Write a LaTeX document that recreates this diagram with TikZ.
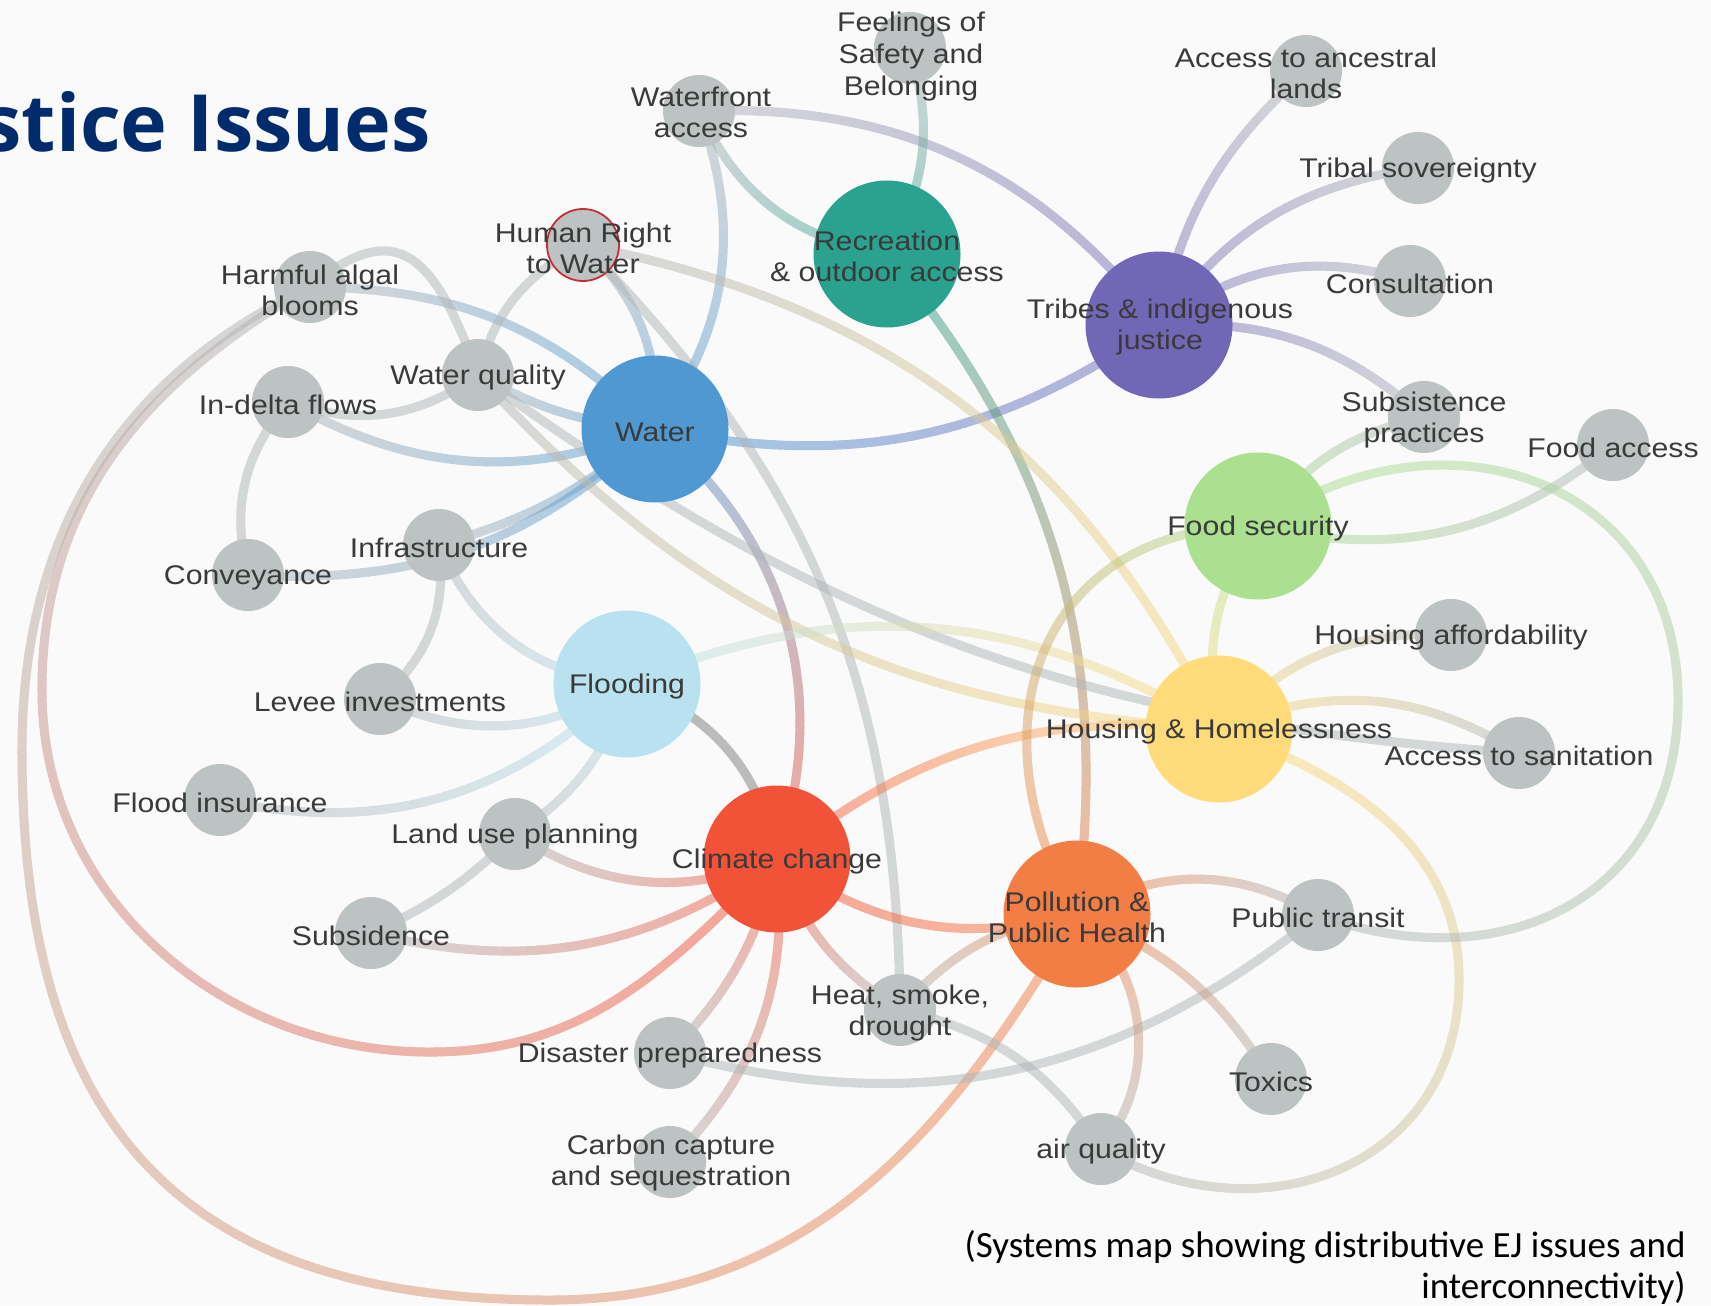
\documentclass[tikz,border=0pt]{standalone}
\usepackage{fontspec}
\setmainfont{Liberation Sans}[FakeStretch=1.12]
\newfontfamily\titlefont{Open Sans}
\newfontfamily\capfont{Carlito}
\usetikzlibrary{decorations.markings}
\pgfdeclarelayer{bg}
\pgfdeclarelayer{edges}
\pgfsetlayers{bg,edges,main}
\definecolor{cW}{RGB}{79,152,210}
\definecolor{cR}{RGB}{42,162,143}
\definecolor{cT}{RGB}{113,103,182}
\definecolor{cF}{RGB}{170,224,143}
\definecolor{cFl}{RGB}{186,225,239}
\definecolor{cH}{RGB}{255,219,122}
\definecolor{cC}{RGB}{242,82,56}
\definecolor{cP}{RGB}{242,126,70}
\definecolor{cG}{RGB}{189,194,195}
\definecolor{cGe}{RGB}{176,181,183}
\definecolor{cDk}{RGB}{125,125,125}
\definecolor{txt}{RGB}{58,58,58}
\definecolor{navy}{RGB}{0,43,108}
\definecolor{hrwred}{RGB}{200,45,55}
\definecolor{bgc}{RGB}{250,250,250}
\newcommand\gradmark[2]{%
  \pgfmathtruncatemacro\gfr{\pgfkeysvalueof{/pgf/decoration/mark info/distance from start}/\pgfdecoratedpathlength*100}%
  \draw[#2!\gfr!#1, line width=4.5pt, line cap=round] (0,0) -- (3.4pt,0);}
\tikzset{
  grad/.style 2 args={postaction={decorate,decoration={markings,
      mark=between positions 0 and 1 step 3pt with {\gradmark{#1}{#2}}}}},
  big/.style={circle, minimum size=73.5pt, inner sep=0pt, draw=none},
  small/.style={circle, minimum size=36pt, inner sep=0pt, draw=none, fill=cG},
  lbl/.style={align=center, inner sep=0pt, text=txt, yshift=-1.5pt, font=\fontsize{13.5}{15.5}\selectfont},
}
\newcommand\edge[5]{%
  \begin{scope}[transparency group, opacity=0.5]
    \path[grad={#3}{#4}] (#1.center) #5 (#2.center);
  \end{scope}}
\begin{document}
\begin{tikzpicture}[x=0.5pt,y=0.5pt]
\begin{pgfonlayer}{bg}
\fill[bgc] (0,0) rectangle (1711,-1305);
\end{pgfonlayer}
\useasboundingbox (0,0) rectangle (1711,-1305);

% big nodes
\node[big, fill=cW] (water) at (655,-429) {};
\node[big, fill=cR] (rec) at (887,-254) {};
\node[big, fill=cT] (tribes) at (1159,-325) {};
\node[big, fill=cF] (fs) at (1258,-526) {};
\node[big, fill=cFl] (flood) at (627,-684) {};
\node[big, fill=cH] (housing) at (1219,-729) {};
\node[big, fill=cC] (climate) at (777,-859) {};
\node[big, fill=cP] (poll) at (1077,-914) {};
% small nodes
\node[small] (feel) at (910,-48) {};
\node[small] (wfa) at (699,-111) {};
\node[small] (aal) at (1306,-71) {};
\node[small] (tsov) at (1418,-168) {};
\node[small] (cons) at (1410,-281) {};
\node[small] (subs) at (1424,-417) {};
\node[small] (facc) at (1613,-445) {};
\node[small, draw=hrwred, line width=0.9pt] (hrw) at (583,-245) {};
\node[small] (hab) at (310,-287) {};
\node[small] (wq) at (478,-375) {};
\node[small] (idf) at (288,-402) {};
\node[small] (infra) at (439,-545) {};
\node[small] (conv) at (248,-575) {};
\node[small] (levee) at (380,-699) {};
\node[small] (finsur) at (220,-800) {};
\node[small] (lup) at (515,-834) {};
\node[small] (subsid) at (371,-933) {};
\node[small] (dp) at (670,-1053) {};
\node[small] (carbon) at (670,-1162) {};
\node[small] (heat) at (900,-1010) {};
\node[small] (aq) at (1101,-1149) {};
\node[small] (toxics) at (1271,-1079) {};
\node[small] (pt) at (1318,-915) {};
\node[small] (sanit) at (1519,-753) {};
\node[small] (haff) at (1451,-635) {};

% labels
\node[lbl] (water-l) at (water) {Water};
\node[lbl] (rec-l) at (887,-253) {Recreation\\\& outdoor access};
\node[lbl] (tribes-l) at (1160,-324) {Tribes \& indigenous\\justice};
\node[lbl] (fs-l) at (fs) {Food security};
\node[lbl] (flood-l) at (flood) {Flooding};
\node[lbl] (housing-l) at (housing) {Housing \& Homelessness};
\node[lbl] (climate-l) at (climate) {Climate change};
\node[lbl] (poll-l) at (1077,-914) {Pollution \&\\Public Health};
\node[lbl, font=\fontsize{13.5}{16}\selectfont] (feel-l) at (911,-54) {Feelings of\\Safety and\\Belonging};
\node[lbl] (wfa-l) at (701,-109) {Waterfront\\access};
\node[lbl] (aal-l) at (1306,-70) {Access to ancestral\\lands};
\node[lbl] (tsov-l) at (tsov) {Tribal sovereignty};
\node[lbl] (cons-l) at (cons) {Consultation};
\node[lbl] (subs-l) at (subs) {Subsistence\\practices};
\node[lbl] (facc-l) at (facc) {Food access};
\node[lbl] (hrw-l) at (hrw) {Human Right\\to Water};
\node[lbl] (hab-l) at (hab) {Harmful algal\\blooms};
\node[lbl] (wq-l) at (wq) {Water quality};
\node[lbl] (idf-l) at (idf) {In-delta flows};
\node[lbl] (infra-l) at (infra) {Infrastructure};
\node[lbl] (conv-l) at (conv) {Conveyance};
\node[lbl] (levee-l) at (levee) {Levee investments};
\node[lbl] (finsur-l) at (finsur) {Flood insurance};
\node[lbl] (lup-l) at (lup) {Land use planning};
\node[lbl] (subsid-l) at (subsid) {Subsidence};
\node[lbl] (dp-l) at (dp) {Disaster preparedness};
\node[lbl] (carbon-l) at (671,-1160) {Carbon capture\\and sequestration};
\node[lbl] (heat-l) at (heat) {Heat, smoke,\\drought};
\node[lbl] (aq-l) at (aq) {air quality};
\node[lbl] (toxics-l) at (toxics) {Toxics};
\node[lbl] (pt-l) at (pt) {Public transit};
\node[lbl] (sanit-l) at (sanit) {Access to sanitation};
\node[lbl] (haff-l) at (haff) {Housing affordability};

% title and caption
\node[anchor=base east, inner sep=0pt, text=navy, font=\titlefont\bfseries\fontsize{39.5}{39.5}\selectfont] (title) at (431,-152) {stice Issues};
\node[anchor=base east, inner sep=0pt, text=black, font=\capfont\fontsize{18.5}{21.5}\selectfont] (cap1) at (1686,-1257) {(Systems map showing distributive EJ issues and};
\node[anchor=base east, inner sep=0pt, text=black, font=\capfont\fontsize{18.5}{21.5}\selectfont] (cap2) at (1686,-1298) {interconnectivity)};

\begin{pgfonlayer}{edges}
\edge{wfa}{water}{cGe}{cW}{to[bend left=28]}
\edge{hrw}{water}{cGe}{cW}{to[bend left=25]}
\edge{hab}{water}{cGe}{cW}{to[bend left=22]}
\edge{wq}{water}{cGe}{cW}{to[bend right=12]}
\edge{idf}{water}{cGe}{cW}{to[bend right=25]}
\edge{infra}{water}{cGe}{cW}{to[bend right=12]}
\edge{conv}{water}{cGe}{cW}{to[bend right=23]}
\edge{water}{tribes}{cW}{cT}{to[bend right=23]}
\edge{water}{climate}{cW}{cC}{to[bend left=34]}
\edge{wfa}{rec}{cGe}{cR}{to[bend right=28]}
\edge{wfa}{tribes}{cGe}{cT}{to[bend left=27]}
\edge{feel}{rec}{cGe}{cR}{to[bend left=23]}
\edge{rec}{poll}{cR}{cP}{to[bend left=23]}
\edge{tribes}{aal}{cT}{cGe}{to[bend left=18]}
\edge{tribes}{tsov}{cT}{cGe}{to[bend left=23]}
\edge{tribes}{cons}{cT}{cGe}{to[bend left=27]}
\edge{tribes}{subs}{cT}{cGe}{to[bend left=22]}
\edge{hrw}{wq}{cGe}{cGe}{to[bend right=24]}
\edge{hrw}{housing}{cGe}{cH}{to[bend left=26]}
\edge{hrw}{heat}{cGe}{cGe}{to[bend left=22]}
\edge{hab}{wq}{cGe}{cGe}{to[out=40,in=110,looseness=1.6]}
\edge{hab}{climate}{cGe}{cC}{to[out=210,in=90] (42,-690) to[out=270,in=180] (430,-1052) to[out=0,in=225]}
\edge{hab}{poll}{cGe}{cP}{to[out=205,in=90] (22,-750) to[out=270,in=180,looseness=1.25] (550,-1300) to[out=0,in=240]}
\edge{idf}{wq}{cGe}{cGe}{to[bend right=27]}
\edge{wq}{housing}{cGe}{cH}{to[bend right=22]}
\edge{wq}{sanit}{cGe}{cGe}{to[bend right=16]}
\edge{idf}{conv}{cGe}{cGe}{to[bend right=27]}
\edge{infra}{levee}{cGe}{cGe}{to[bend left=28]}
\edge{infra}{flood}{cGe}{cFl}{to[bend right=30]}
\edge{levee}{flood}{cGe}{cFl}{to[bend right=28]}
\edge{finsur}{flood}{cGe}{cFl}{to[bend right=28]}
\edge{lup}{flood}{cGe}{cFl}{to[bend right=20]}
\edge{flood}{climate}{cDk}{cDk}{to[bend left=30]}
\edge{flood}{housing}{cFl}{cH}{to[bend left=27]}
\edge{lup}{subsid}{cGe}{cGe}{to[bend left=10]}
\edge{lup}{climate}{cGe}{cC}{to[bend right=27]}
\edge{subsid}{climate}{cGe}{cC}{to[bend right=24]}
\edge{climate}{dp}{cC}{cGe}{to[bend left=15]}
\edge{climate}{carbon}{cC}{cGe}{to[bend left=25]}
\edge{climate}{heat}{cC}{cGe}{to[bend right=18]}
\edge{climate}{poll}{cC}{cP}{to[bend right=25]}
\edge{climate}{housing}{cC}{cH}{to[bend left=22]}
\edge{heat}{poll}{cGe}{cP}{to[bend left=20]}
\edge{heat}{aq}{cGe}{cGe}{to[bend left=22]}
\edge{dp}{pt}{cGe}{cGe}{to[bend right=27]}
\edge{poll}{fs}{cP}{cF}{to[out=120,in=180,looseness=1.3]}
\edge{poll}{pt}{cP}{cGe}{to[bend left=30]}
\edge{poll}{toxics}{cP}{cGe}{to[bend left=18]}
\edge{poll}{aq}{cP}{cGe}{to[bend left=45]}
\edge{housing}{fs}{cH}{cF}{to[bend left=22]}
\edge{housing}{haff}{cH}{cGe}{to[bend left=25]}
\edge{housing}{sanit}{cH}{cGe}{to[bend left=27]}
\edge{housing}{aq}{cH}{cGe}{to[out=-20,in=90] (1459,-980) to[out=270,in=-30,looseness=1.2]}
\edge{fs}{subs}{cF}{cGe}{to[bend left=20]}
\edge{fs}{facc}{cF}{cGe}{to[bend right=26]}
\edge{fs}{pt}{cF}{cGe}{to[out=35,in=90,looseness=1.25] (1678,-700) to[out=270,in=-20,looseness=1.2]}
\end{pgfonlayer}
\end{tikzpicture}
\end{document}
